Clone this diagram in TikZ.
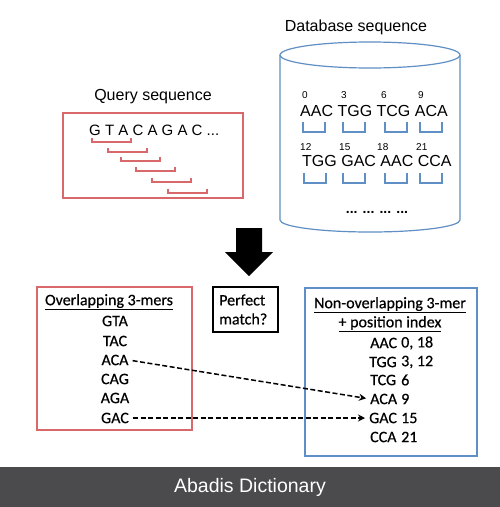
\documentclass[tikz,border=0pt]{standalone}
\usepackage{fontspec}
\setmainfont{Liberation Sans}
\newfontfamily\calibfont{Carlito}[FakeBold=0.5]
\usetikzlibrary{arrows.meta}
\definecolor{redbox}{HTML}{D9686B}
\definecolor{bluebox}{HTML}{5F8FC4}
\definecolor{barcol}{HTML}{4B4A4C}
\tikzset{
  arial/.style={font=\fontsize{16}{18}\selectfont, inner sep=0pt},
  small/.style={font=\fontsize{10}{11}\selectfont, inner sep=0pt},
  calib/.style={font=\calibfont\fontsize{16}{18}\selectfont, inner sep=0pt},
  redbr/.style={draw=redbox, line width=1.3pt},
  bluebr/.style={draw=bluebox, line width=1.6pt},
  dasharrow/.style={dash pattern=on 5pt off 2.5pt, line width=1.5pt, -{Stealth[length=7pt,width=7pt]}},
}
\begin{document}
\begin{tikzpicture}[x=1pt,y=-1pt]
\useasboundingbox (0,0) rectangle (500,507);
\fill[white] (0,0) rectangle (500,507);
% bottom bar
\fill[barcol] (0,467) rectangle (500,507);
\node[font=\fontsize{19.5}{22}\selectfont, text=white] (bar) at (250,487) {Abadis Dictionary};

% Query sequence
\node[arial] (qtitle) at (153,97) {Query sequence};
\draw[redbox, line width=1.2pt] (63,113) rectangle (243,198);
\node[arial, anchor=west, font=\fontsize{15}{18}\selectfont] (qseq) at (89,130) {G T A C A G A C ...};
\foreach \x/\y in {92/142, 108/152, 121/161, 136/171, 152/182, 168/193}{
  \draw[redbr] (\x,\y-4) -- (\x,\y) -- (\x+39,\y) -- (\x+39,\y-4);
}

% Database cylinder
\node[arial] (dbtitle) at (356,27) {Database sequence};
\draw[bluebox, line width=1.2pt] (370,55) ellipse (90 and 13);
\draw[bluebox, line width=1.2pt] (280,55) -- (280,220) arc (180:0:90 and 12) -- (460,55);
% row 1
\foreach \lab/\x in {0/302, 3/341, 6/381, 9/418}{
  \node[small, anchor=west] at (\x,95) {\lab};
}
\node[arial, anchor=west] (r1) at (300,111) {AAC TGG TCG ACA};
\foreach \x in {303, 343, 385, 420}{
  \draw[bluebr] (\x,122) -- (\x,132) -- (\x+22,132) -- (\x+22,122);
}
% row 2
\foreach \lab/\x in {12/300, 15/339, 18/377, 21/416}{
  \node[small, anchor=west] at (\x,147) {\lab};
}
\node[arial, anchor=west] (r2) at (302,161) {TGG GAC AAC CCA};
\foreach \x in {304, 343, 385, 420}{
  \draw[bluebr] (\x,173) -- (\x,183) -- (\x+22,183) -- (\x+22,173);
}
\node[arial, font=\fontsize{14}{16}\selectfont\bfseries] (dots) at (377,212) {... ... ... ...};

% big down arrow
\fill[black] (236,228) -- (262,228) -- (262,252) -- (273,252) -- (249,276) -- (225,252) -- (236,252) -- cycle;

% perfect match
\draw[black, line width=1.2pt] (213,287) rectangle (278,332);
\node[calib, align=left, anchor=west] (pm) at (219,309.5) {Perfect\\[1pt]match?};

% left box
\draw[redbox, line width=1.2pt] (37,287) rectangle (192,430);
\node[calib] (ltitle) at (109,302) {\underline{Overlapping 3-mers}};
\node[calib] (l1) at (115,321) {GTA};
\node[calib] (l2) at (115,341) {TAC};
\node[calib] (l3) at (115,360) {ACA};
\node[calib] (l4) at (115,379) {CAG};
\node[calib] (l5) at (115,398) {AGA};
\node[calib] (l6) at (115,418) {GAC};

% right box
\draw[bluebox, line width=1.2pt] (305,288) rectangle (477,456);
\node[calib] (rtitle1) at (390,305) {\underline{Non-overlapping 3-mer}};
\node[calib] (rtitle2) at (390,324) {\underline{+ position index}};
\node[calib, anchor=west] (k1) at (370,343) {AAC};
\node[calib, anchor=west] (k2) at (369,362) {TGG};
\node[calib, anchor=west] (k3) at (370,380) {TCG};
\node[calib, anchor=west] (k4) at (370,399) {ACA};
\node[calib, anchor=west] (k5) at (369,418) {GAC};
\node[calib, anchor=west] (k6) at (370,437) {CCA};
\node[calib, anchor=west] (v1) at (401,343) {0, 18};
\node[calib, anchor=west] (v2) at (401,362) {3, 12};
\node[calib, anchor=west] (v3) at (401,380) {6};
\node[calib, anchor=west] (v4) at (401,399) {9};
\node[calib, anchor=west] (v5) at (401,418) {15};
\node[calib, anchor=west] (v6) at (401,437) {21};

% dashed arrows
\draw[dasharrow, shorten <=4pt, shorten >=4pt] (l3.east) -- (k4.west);
\draw[dasharrow, shorten <=4pt, shorten >=4pt] (l6.east) -- (k5.west);
\end{tikzpicture}
\end{document}
